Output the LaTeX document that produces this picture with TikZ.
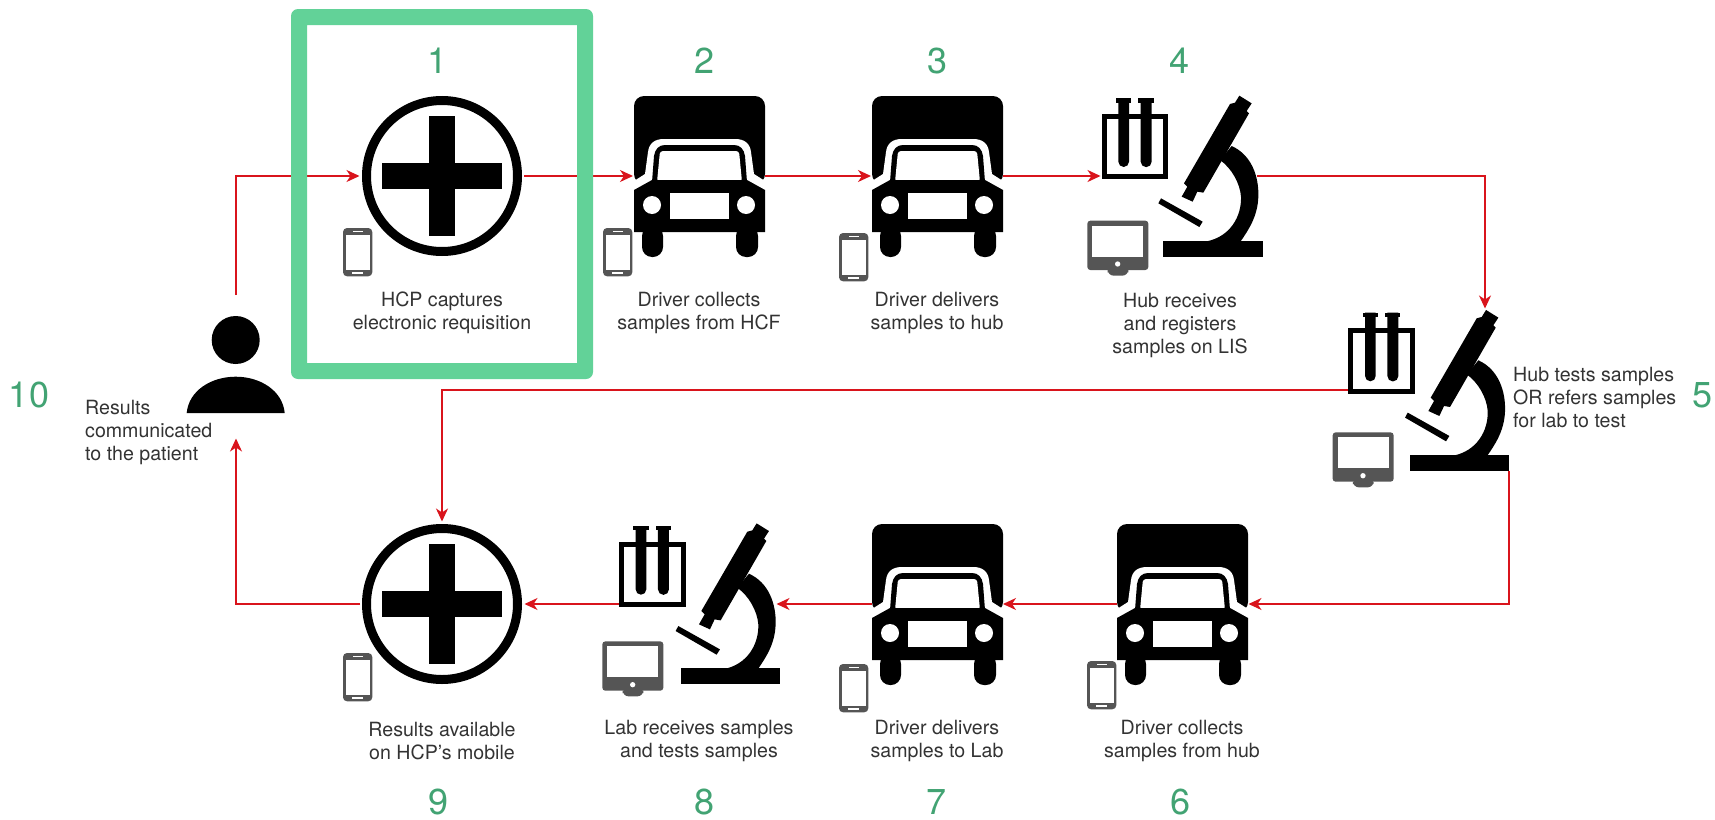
\documentclass[tikz,border=0pt]{standalone}
\usepackage{fontspec}
\setmainfont{TeX Gyre Heros}
\usetikzlibrary{arrows.meta}
\definecolor{framegreen}{HTML}{62D298}
\definecolor{numgreen}{HTML}{42A373}
\definecolor{linkred}{HTML}{D9141C}
\definecolor{devgray}{HTML}{555555}
\definecolor{txtgray}{HTML}{333333}
\tikzset{
  anchorbox/.style={inner sep=0pt,outer sep=0pt,minimum width=#1},
  truckbox/.style={inner sep=0pt,outer sep=0pt,minimum width=131pt,minimum height=160pt},
  portdot/.style={inner sep=0pt,outer sep=0pt,minimum size=0pt},
  link/.style={draw=linkred,line width=1.4pt,-{Stealth[length=13pt,width=12pt,inset=4pt]},shorten >=0.5pt},
  number/.style={text=numgreen,font=\fontsize{36}{36}\selectfont,inner sep=0pt},
  label/.style={text=txtgray,font=\fontsize{19.6}{23}\selectfont,align=center,inner sep=0pt},
  labelleft/.style={label,align=left,anchor=west},
  truck/.pic={
    \fill[rounded corners=10pt] (0,88)--(0,0)--(131,0)--(131,88)--cycle;
    \fill[white] (0,85)--(11,78)--(14,56) .. controls (15,47) and (21,43) .. (30,43)--(101,43) .. controls (110,43) and (116,47) .. (117,56)--(120,78)--(131,85)--(131,96)--(0,96)--cycle;
    \fill (18,86)--(20,60) .. controls (21,53) and (25,49) .. (31,49)--(100,49) .. controls (106,49) and (110,53) .. (111,60)--(113,86)--cycle;
    \fill[white,rounded corners=3pt] (23,86)--(26,55)--(105,55)--(108,86)--cycle;
    \fill (0,94)--(18,84)--(113,84)--(131,94)--(131,136)--(0,136)--cycle;
    \fill[rounded corners=10pt] (8,130)--(8,161)--(29,161)--(29,130)--cycle;
    \fill[rounded corners=10pt] (102,130)--(102,161)--(124,161)--(124,130)--cycle;
    \fill[white] (18,109) circle (9);
    \fill[white] (112,109) circle (9);
    \fill[white] (36,97) rectangle (95,123);
  },
  hospital/.pic={
    \draw[line width=9pt,fill=white] (0,0) circle (75.5);
    \fill (-60,-12.7) rectangle (60,12.7);
    \fill (-12.7,-60) rectangle (12.7,60);
  },
  phone/.pic={
    \fill[devgray,rounded corners=4pt] (0,0) rectangle (29.3,48.3);
    \fill[white] (2.5,6.5) rectangle (27,42);
    \fill[white] (10,2.5) rectangle (19.5,4);
    \fill[white] (9,44) rectangle (20,46);
  },
  tablet/.pic={
    \begin{scope}[scale=1/3]
    \fill[devgray,rounded corners=3pt] (82,422) rectangle (265,570);
    \fill[devgray,rounded corners=6pt] (143,560) rectangle (205,587);
    \fill[white] (97,437) rectangle (250,530);
    \fill[white] (173,552) circle (8);
    \end{scope}
  },
  microscope/.pic={
    \begin{scope}[scale=1/3]
    \draw[line width=5pt,fill=white] (132.5,109.5) rectangle (317.5,290.5);
    \fill (168,55) rectangle (214,68);
    \fill (235,55) rectangle (281,68);
    \fill (175,55) -- (175,245) arc[start angle=180,end angle=0,radius=16] -- (207,55) -- cycle;
    \fill (242,55) -- (242,245) arc[start angle=180,end angle=0,radius=16.5] -- (275,55) -- cycle;
    \fill (538,47)--(575,70)--(560,93)--(567,100)--(430,338)--(412,335)--(398,365)--(365,350)--(382,320)--(372,310)--(510,72)--(525,68)--cycle;
    \fill (515,198) .. controls (575,225) and (597,290) .. (595,350) .. controls (593,410) and (565,450) .. (542,484) -- (440,484) .. controls (510,470) and (545,410) .. (543,350) .. controls (540,310) and (515,265) .. (480,240) -- cycle;
    \fill (310,482) rectangle (608,530);
    \fill (303,355)--(428,425)--(418,441)--(295,370)--cycle;
    \end{scope}
  },
  personicon/.pic={
    \fill (0,-73) circle (24);
    \fill (-49,0) .. controls (-47,-22) and (-25,-36.3) .. (0,-36.3) .. controls (25,-36.3) and (47,-22) .. (49,0) -- cycle;
  }
}
\begin{document}
\begin{tikzpicture}[x=1pt,y=-1pt]
\useasboundingbox (0,0) rectangle (1715,819);
% named anchors
\node[portdot,minimum width=164pt,minimum height=164pt,shape=circle] (h1) at (442,176) {};
\node[portdot,minimum width=164pt,minimum height=164pt,shape=circle] (h9) at (442,604) {};
\node[truckbox] (t2) at (699,176) {};
\node[truckbox] (t3) at (937,176) {};
\node[truckbox] (t6) at (1182.5,604) {};
\node[truckbox] (t7) at (937,604) {};
\node[portdot] (b4) at (1101,176) {};
\node[portdot] (a4) at (1257,176) {};
\node[portdot] (m5top) at (1485,309) {};
\node[portdot] (b5) at (1348,390) {};
\node[portdot] (m5base) at (1509,471) {};
\node[portdot] (a8) at (776,604) {};
\node[portdot] (b8) at (619,604) {};
\node[anchorbox=98pt,minimum height=143pt] (pat) at (236,366.5) {};
% connectors
\draw[link] (pat.north) |- (h1.west);
\draw[link] (h1.east) -- (t2.west);
\draw[link] (t2.east) -- (t3.west);
\draw[link] (t3.east) -- (b4);
\draw[link] (a4) -| (m5top);
\draw[link] (b5) -| (h9.north);
\draw[link] (m5base) |- (t6.east);
\draw[link] (t6.west) -- (t7.east);
\draw[link] (t7.west) -- (a8);
\draw[link] (b8) -- (h9.east);
\draw[link] (h9.west) -| (pat.south);
% icons
\pic at (442,176) {hospital};
\pic at (442,604) {hospital};
\pic at (634,96) {truck};
\pic at (872,96) {truck};
\pic at (1117,524) {truck};
\pic at (872,524) {truck};
\pic at (1060,80) {microscope};
\pic at (1306.7,294.3) {microscope};
\pic at (577.3,507.7) {microscope};
\pic at (1060,80) {tablet};
\pic at (1305.3,291.7) {tablet};
\pic at (575,500.7) {tablet};
\pic at (343,228) {phone};
\pic at (603,228) {phone};
\pic at (839,233) {phone};
\pic at (1087,661) {phone};
\pic at (839,664) {phone};
\pic at (343,653) {phone};
\pic at (235.7,413) {personicon};
% frame
\fill[framegreen,even odd rule,rounded corners=7pt] (291,9) rectangle (593,379) [sharp corners] (307,25) rectangle (577,363);
% numbers
\node[number] (n1) at (438,61) {1};
\node[number] (n2) at (704,61) {2};
\node[number] (n3) at (937,61) {3};
\node[number] (n4) at (1179,61) {4};
\node[number] (n5) at (1702,395) {5};
\node[number] (n6) at (1180,802) {6};
\node[number] (n7) at (936,802) {7};
\node[number] (n8) at (704,802) {8};
\node[number] (n9) at (439,802) {9};
\node[number] (n10) at (29,395) {10};
% labels
\node[label] (l1) at (442,313) {HCP captures\\electronic requisition};
\node[label] (l2) at (699,313) {Driver collects\\samples from HCF};
\node[label] (l3) at (937,313) {Driver delivers\\samples to hub};
\node[label] (l4) at (1180,325) {Hub receives\\and registers\\samples on LIS};
\node[labelleft] (l5) at (1513,397) {Hub tests samples\\OR refers samples\\for lab to test};
\node[label] (l6) at (1182,741) {Driver collects\\samples from hub};
\node[label] (l7) at (937,741) {Driver delivers\\samples to Lab};
\node[label] (l8) at (699,741) {Lab receives samples\\and tests samples};
\node[label] (l9) at (442,741) {Results available\\on HCP's mobile};
\node[labelleft] (l10) at (85,432) {Results\\communicated\\to the patient};
\end{tikzpicture}
\end{document}
